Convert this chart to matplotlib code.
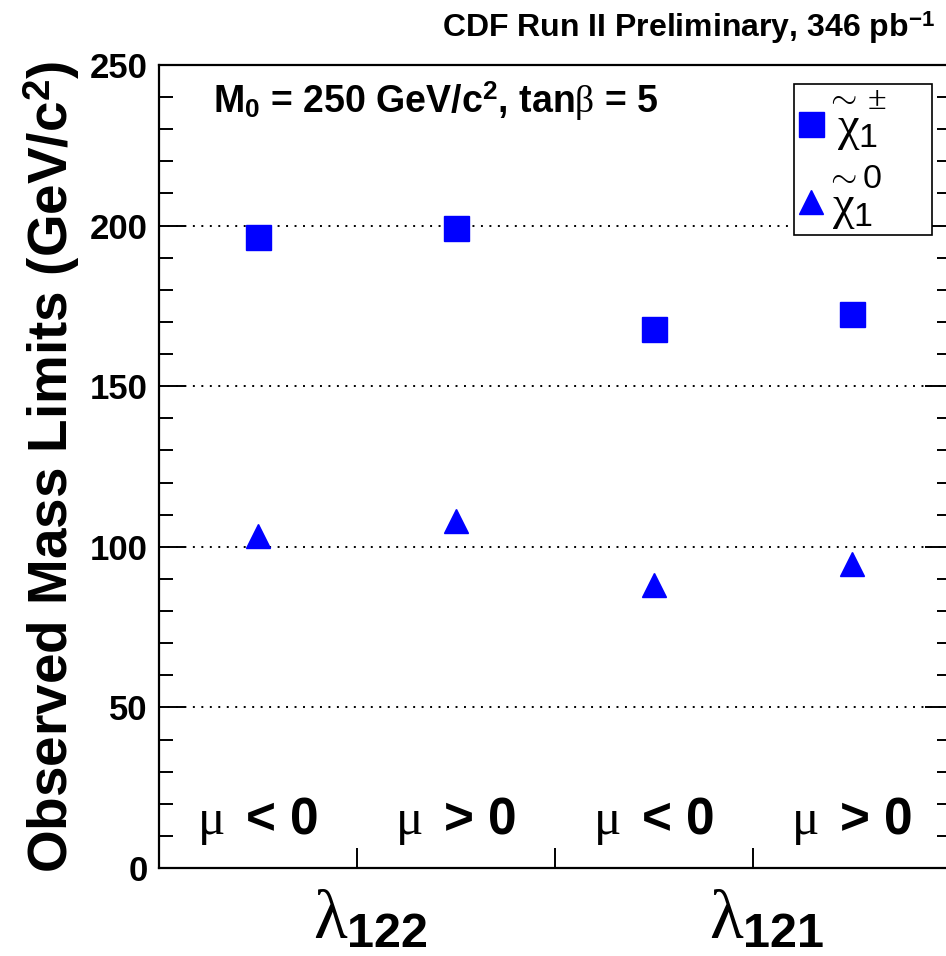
import numpy as np
import matplotlib
matplotlib.use('Agg')
import matplotlib.pyplot as plt
from matplotlib.ticker import MultipleLocator, FixedLocator, NullFormatter

# mass limits per (coupling, sign of mu) bin, in GeV/c^2
categories = [r'$\mu\,$ < 0', r'$\mu\,$ > 0', r'$\mu\,$ < 0', r'$\mu\,$ > 0']
couplings = [r'$\lambda_{\mathbf{122}}$', r'$\lambda_{\mathbf{121}}$']
coupling_pos = [1.0, 3.0]
chargino_limits = [196.4, 199.1, 167.9, 172.6]
neutralino_limits = [103.3, 107.9, 88.0, 94.6]

plt.rcParams['font.family'] = ['Liberation Sans', 'DejaVu Sans']
plt.rcParams['font.weight'] = 'bold'
plt.rcParams['mathtext.fontset'] = 'custom'
plt.rcParams['mathtext.rm'] = 'Liberation Serif:weight=normal'
plt.rcParams['mathtext.it'] = 'Liberation Serif:weight=normal'
plt.rcParams['mathtext.bf'] = 'Liberation Sans:weight=bold'
plt.rcParams['mathtext.sf'] = 'Liberation Sans:weight=normal'
plt.rcParams['lines.scale_dashes'] = False

fig = plt.figure(figsize=(9.46, 9.56), dpi=100)
ax = fig.add_axes([159 / 946, 1 - 868 / 956, 792 / 946, 803 / 956])

x = np.arange(len(categories)) + 0.5
ax.plot(x, chargino_limits, 's', color='#0000ff', markersize=18, linestyle='none',
        label=r'$\overset{\sim\pm}{\chi_{\mathsf{1}}}$')
ax.plot(x, neutralino_limits, '^', color='#0000ff', markersize=17, linestyle='none',
        label=r'$\overset{\sim \mathsf{0}}{\chi_{\mathsf{1}}}$')

ax.set_xlim(0, len(categories))
ax.set_ylim(0, 250)

for sp in ax.spines.values():
    sp.set_linewidth(1.6)

ax.yaxis.set_major_locator(MultipleLocator(50))
ax.yaxis.set_minor_locator(MultipleLocator(10))
ax.tick_params(axis='y', which='major', direction='in', length=18.5, width=1.4,
               left=True, right=True, labelsize=25, pad=8)
ax.tick_params(axis='y', which='minor', direction='in', length=10, width=1.4,
               left=True, right=True)
ax.xaxis.set_major_locator(FixedLocator([1, 2, 3]))
ax.xaxis.set_major_formatter(NullFormatter())
ax.tick_params(axis='x', which='major', direction='in', length=14.5, width=1.4,
               bottom=True, top=False)

# dotted guide lines at the inner major ticks
for yv in [50, 100, 150, 200]:
    ax.axhline(yv, color='black', linewidth=1.4, linestyle=(0, (1.4, 4.7)), zorder=0)

ax.set_ylabel('Observed Mass Limits (GeV/c$^{\\mathbf{2}}$)', fontsize=39.5,
              fontweight='bold', labelpad=6)

for xi, lab in zip(x, categories):
    ax.text(xi, 10.5, lab, fontsize=37, ha='center', va='baseline')

for xp, lab in zip(coupling_pos, couplings):
    ax.text(xp + 0.07, -0.0872, lab, fontsize=50, ha='center', va='baseline',
            transform=ax.get_xaxis_transform())

ax.text(0.068, 0.940, r'M$_{\mathbf{0}}$ = 250 GeV/c$^{\mathbf{2}}$, tan$\beta$ = 5',
        fontsize=27, transform=ax.transAxes, va='baseline')

fig.text(0.988, 1 - 37 / 956, r'CDF Run II Preliminary, 346 pb$^{\mathbf{-1}}$',
         fontsize=23, ha='right', va='baseline')

leg = ax.legend(loc='upper left', bbox_to_anchor=(0.8018, 0.0, 0.1742, 0.976),
                mode='expand', borderaxespad=0, fontsize=35, frameon=True,
                fancybox=False, framealpha=1, edgecolor='black',
                handlelength=0.55, handletextpad=0.0, borderpad=0.08,
                labelspacing=0.2)
leg.get_frame().set_linewidth(1.2)

fig.savefig('out.png', dpi=100)
